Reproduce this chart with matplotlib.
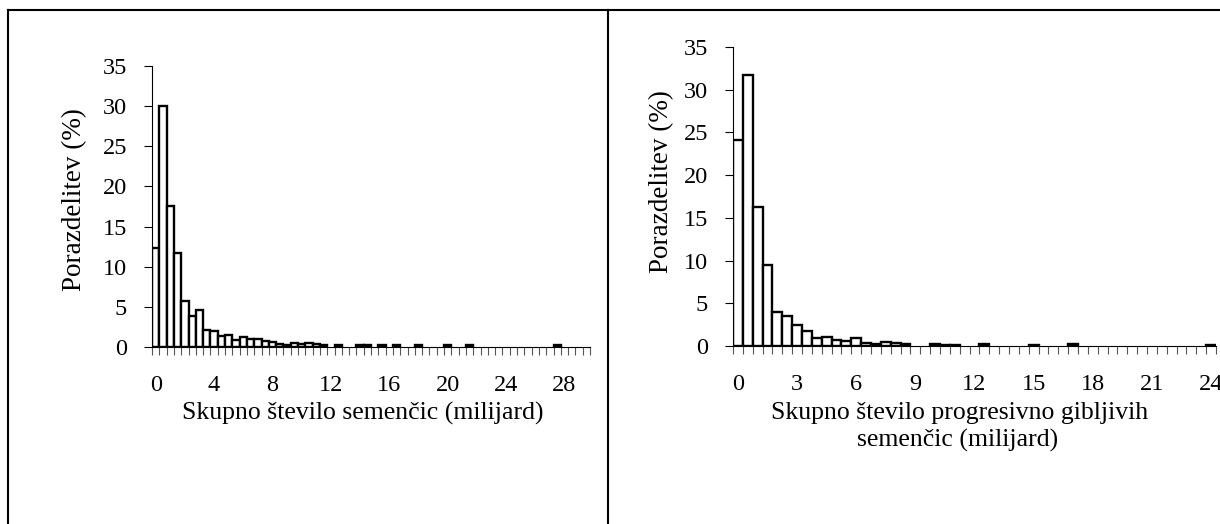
import matplotlib.pyplot as plt
from matplotlib.lines import Line2D
import numpy as np

plt.rcParams['font.family'] = ['Liberation Serif', 'DejaVu Serif']

# levi graf: skupno število semenčic (razredi po 0,5 milijarde)
left_pct = [12.3, 30.0, 17.6, 11.75, 5.75, 3.8, 4.55, 2.1, 2.0, 1.4,
            1.45, 0.9, 1.2, 1.05, 1.05, 0.7, 0.6, 0.35, 0.3, 0.5,
            0.4, 0.5, 0.35, 0.2, 0.0, 0.3, 0.0, 0.0, 0.25, 0.3,
            0.0, 0.2, 0.0, 0.2, 0.0, 0.0, 0.2, 0.0, 0.0, 0.0,
            0.25, 0.0, 0.0, 0.3, 0.0, 0.0, 0.0, 0.0, 0.0, 0.0,
            0.0, 0.0, 0.0, 0.0, 0.0, 0.25, 0.0, 0.0, 0.0, 0.0]
left_labels = ['0', '4', '8', '12', '16', '20', '24', '28']

# desni graf: progresivno gibljive semenčice (razredi po 0,5 milijarde)
right_pct = [24.1, 31.7, 16.3, 9.5, 3.95, 3.5, 2.45, 1.7, 0.97, 1.1,
             0.72, 0.58, 0.95, 0.38, 0.22, 0.48, 0.4, 0.28, 0.0, 0.0,
             0.2, 0.15, 0.15, 0.0, 0.0, 0.25, 0.0, 0.0, 0.0, 0.0,
             0.15, 0.0, 0.0, 0.0, 0.2, 0.0, 0.0, 0.0, 0.0, 0.0,
             0.0, 0.0, 0.0, 0.0, 0.0, 0.0, 0.0, 0.0, 0.15]
right_labels = ['0', '3', '6', '9', '12', '15', '18', '21', '24']

W, H = 1220, 524
fig = plt.figure(figsize=(W / 100, H / 100), dpi=100)


def px(x0, y0, x1, y1):
    return [x0 / W, 1 - y1 / H, (x1 - x0) / W, (y1 - y0) / H]


def histo(ax, values, labels, step):
    n = len(values)
    idx = [i for i, v in enumerate(values) if v > 0]
    ax.bar(idx, [values[i] for i in idx], width=1.0, color='white',
           edgecolor='black', linewidth=1.7)
    ax.set_xlim(-0.5, n - 0.5)
    ax.set_ylim(0, 35)
    ax.set_yticks(range(0, 36, 5))
    ax.set_xticks([i * step for i in range(len(labels))])
    ax.set_xticklabels(labels)
    ax.set_xticks(np.arange(-0.5, n, 1.0), minor=True)
    ax.tick_params(axis='x', which='major', length=0, pad=20, labelsize=17.5)
    ax.tick_params(axis='x', which='minor', length=6, width=0.8, color='#555555')
    ax.tick_params(axis='y', length=6, width=0.8, pad=12, labelsize=17.5)
    for s in ('top', 'right'):
        ax.spines[s].set_visible(False)
    ax.spines['left'].set_linewidth(0.8)
    ax.spines['bottom'].set_linewidth(0.8)


ax1 = fig.add_axes(px(152, 66, 590, 347))
histo(ax1, left_pct, left_labels, 8)

ax2 = fig.add_axes(px(733, 47, 1216, 346))
histo(ax2, right_pct, right_labels, 6)

# oznake osi
fig.text(75 / W, 1 - 200 / H, 'Porazdelitev (%)', rotation=90,
         ha='center', va='center', fontsize=19.5)
fig.text(363 / W, 1 - 413 / H, 'Skupno število semenčic (milijard)',
         ha='center', va='center', fontsize=18.5)
fig.text(662 / W, 1 - 182 / H, 'Porazdelitev (%)', rotation=90,
         ha='center', va='center', fontsize=19.5)
fig.text(960 / W, 1 - 413 / H, 'Skupno število progresivno gibljivih',
         ha='center', va='center', fontsize=18.5)
fig.text(958 / W, 1 - 440 / H, 'semenčic (milijard)',
         ha='center', va='center', fontsize=18.5)

# okvir okoli obeh grafov
for xs, ys in [((8, W), (10, 10)), ((8, 8), (10, H)), ((608, 608), (10, H))]:
    fig.add_artist(Line2D([x / W for x in xs], [1 - y / H for y in ys],
                          color='black', linewidth=1.5))

plt.savefig('out.png', dpi=100)
